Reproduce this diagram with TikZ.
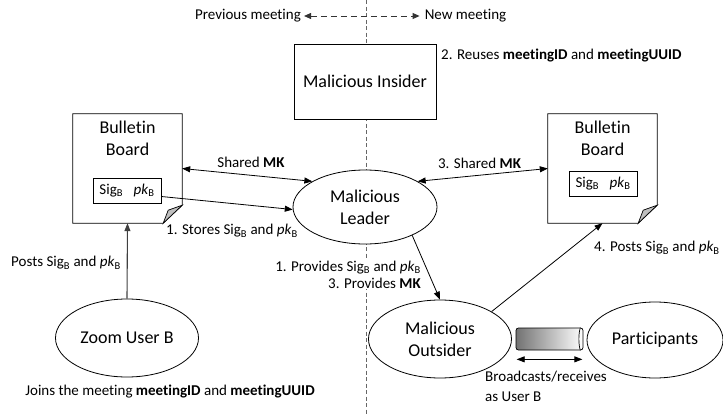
\documentclass[tikz,border=0pt]{standalone}
\usepackage{fontspec}
\setmainfont{Carlito}[Ligatures=NoCommon]
\usetikzlibrary{arrows.meta,shapes.geometric}
\newcommand\drawboard[1]{%
  \draw[line width=0.8pt, fill=white] (#1.north west) -- (#1.north east) -- ([yshift=18pt]#1.south east) -- ([xshift=-19pt]#1.south east) -- (#1.south west) -- cycle;
  \draw[line width=0.7pt, fill=black!25] ([xshift=-19pt]#1.south east) .. controls ([xshift=-16pt,yshift=6pt]#1.south east) .. ([xshift=-14pt,yshift=13pt]#1.south east) -- ([yshift=18pt]#1.south east) -- cycle;
}
\begin{document}
\begin{tikzpicture}[x=1pt,y=-1pt,
  big/.style={font=\fontsize{18}{22}\selectfont},
  small/.style={font=\fontsize{15}{18}\selectfont},
  lbl/.style={small, inner sep=0pt},
  oval/.style={ellipse, draw, fill=white, big, inner sep=0pt, align=center, line width=0.8pt},
  boardtext/.style={big, align=center, inner sep=0pt},
  boardbox/.style={minimum width=109pt, minimum height=109pt, inner sep=0pt},
  sigbox/.style={draw, fill=white, small, minimum width=68pt, minimum height=25pt, inner sep=0pt, line width=0.7pt},
  tip/.style={Triangle[length=8pt,width=6pt]},
  arr/.style={-{Triangle[length=8pt,width=6pt]}, line width=0.8pt},
  darr/.style={{Triangle[length=8pt,width=6pt]}-{Triangle[length=8pt,width=6pt]}, line width=0.8pt},
  divider/.style={dash pattern=on 4pt off 2.5pt, black!60, line width=0.9pt},
]
\useasboundingbox (0,0) rectangle (723,415);

% divider
\coordinate (dtop) at (366,0);
\coordinate (dbot) at (366,415);
\draw[divider] (dtop) -- (dbot);

% top legend
\node[lbl] (prev) at (248,16) {Previous meeting};
\node[lbl] (newm) at (465.5,16) {New meeting};
\draw[dash pattern=on 6pt off 4pt, black!80, line width=0.9pt, {Triangle[length=7pt,width=6pt]}-{Triangle[length=7pt,width=6pt]}] ([xshift=3pt]prev.east) -- ([xshift=-5pt]newm.west);

% insider
\node[draw, fill=white, big, minimum width=142pt, minimum height=75pt, line width=0.8pt] (insider) at (365,81.5) {Malicious Insider};
\node[lbl, anchor=west] (reuse) at (441,56) {2. Reuses \textbf{meetingID} and \textbf{meetingUUID}};

% boards
\node[boardbox] (bbl) at (127.5,168.5) {};
\drawboard{bbl}
\node[boardtext] (bbltxt) at (127.5,138.5) {Bulletin\\Board};
\node[sigbox] (sigl) at (127,190.5) {Sig\textsubscript{B}\hspace{0.7em}\textit{pk}\textsubscript{B}};

\node[boardbox] (bbr) at (602.5,168.5) {};
\drawboard{bbr}
\node[boardtext] (bbrtxt) at (602.5,138.5) {Bulletin\\Board};
\node[sigbox] (sigr) at (603,183.5) {Sig\textsubscript{B}\hspace{0.7em}\textit{pk}\textsubscript{B}};

% ellipses
\node[oval, minimum width=144pt, minimum height=74pt] (leader) at (365,207) {Malicious\\Leader};
\node[oval, minimum width=143pt, minimum height=78pt] (zub) at (127,338) {Zoom User B};
\node[oval, minimum width=143pt, minimum height=78pt] (outsider) at (440,339) {Malicious\\Outsider};
\node[oval, minimum width=136pt, minimum height=76pt] (part) at (655,340) {Participants};

% channel
\node[draw, rounded corners=2.5pt, left color=black!55, right color=white, minimum width=67pt, minimum height=22pt, inner sep=0pt, line width=0.7pt] (cyl) at (549.5,339) {};
\draw[line width=0.7pt] ([xshift=-3pt]cyl.north east) .. controls ([xshift=-5pt,yshift=-6pt]cyl.north east) and ([xshift=-5pt,yshift=6pt]cyl.south east) .. ([xshift=-3pt]cyl.south east);
\coordinate (chl) at ([xshift=1pt,yshift=-9pt]cyl.south west);
\coordinate (chr) at ([xshift=-1pt,yshift=-9pt]cyl.south east);
\draw[darr] (chl) -- (chr);
\node[lbl, anchor=north west, align=left, font=\fontsize{15}{20}\selectfont] (broad) at (485,371) {Broadcasts/receives\\as User B};

% connectors
\draw[darr] (bbl.east) -- (leader.154);
\draw[arr] ([yshift=-6pt]sigl.east) -- (leader.182);
\draw[darr] (leader.26) -- (bbr.west);
\draw[arr] (leader.-31) -- (outsider.north);
\draw[arr] (outsider.28) -- (bbr.south);
\draw[arr, black!75, line width=1.1pt] (zub.north) -- (bbl.south);

% labels
\node[lbl] (sharedl) at (251,162) {Shared \textbf{MK}};
\node[lbl] (stores) at (232,231) {1. Stores Sig\textsubscript{B} and \textit{pk}\textsubscript{B}};
\node[lbl] (sharedr) at (479.5,163) {3. Shared \textbf{MK}};
\node[lbl, anchor=west] (posts4) at (594,248) {4. Posts Sig\textsubscript{B} and \textit{pk}\textsubscript{B}};
\node[lbl, anchor=east, align=right, fill=white, inner sep=1pt, font=\fontsize{15}{17}\selectfont] (provides) at (422,274.5) {1. Provides Sig\textsubscript{B} and \textit{pk}\textsubscript{B}\\3. Provides \textbf{MK}};
\node[lbl, anchor=east] (postsl) at (121,263) {Posts Sig\textsubscript{B} and \textit{pk}\textsubscript{B}};
\node[lbl] (joins) at (170,392) {Joins the meeting \textbf{meetingID} and \textbf{meetingUUID}};
\end{tikzpicture}
\end{document}
